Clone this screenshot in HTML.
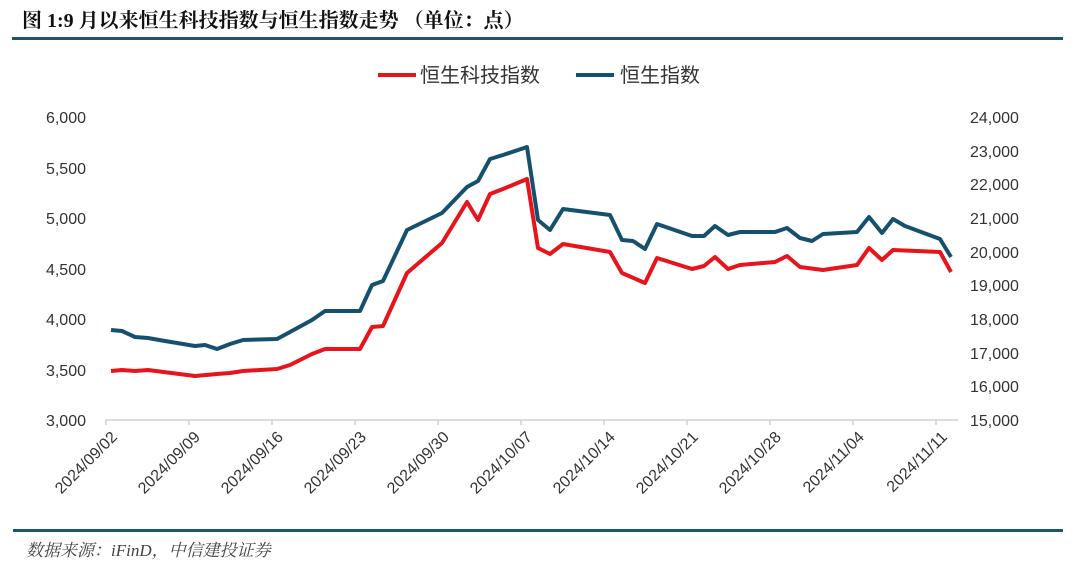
<!DOCTYPE html>
<html><head><meta charset="utf-8"><style>
body{margin:0;width:1080px;height:572px;background:#fff;overflow:hidden}
</style></head><body>
<svg width="1080" height="572" xmlns="http://www.w3.org/2000/svg" font-family="'Liberation Sans','Noto Sans CJK SC',sans-serif">
<text x="22" y="27" font-size="20" font-weight="bold" font-family="'Liberation Serif','Noto Serif CJK SC',serif" fill="#111">图 1:9 月以来恒生科技指数与恒生指数走势 （单位：点）</text>
<rect x="12" y="37" width="1051" height="3" fill="#1b5670"/>
<line x1="378" y1="75" x2="416" y2="75" stroke="#e8141b" stroke-width="4"/>
<text x="420" y="82" font-size="20" fill="#333">恒生科技指数</text>
<line x1="576" y1="75" x2="614" y2="75" stroke="#16506f" stroke-width="4"/>
<text x="620" y="82" font-size="20" fill="#333">恒生指数</text>
<g font-size="16" fill="#333" text-anchor="end">
<text x="86" y="123">6,000</text><text x="86" y="174">5,500</text><text x="86" y="224">5,000</text><text x="86" y="275">4,500</text><text x="86" y="325">4,000</text><text x="86" y="376">3,500</text><text x="86" y="426">3,000</text>
</g>
<g font-size="16" fill="#333">
<text x="970" y="123">24,000</text><text x="970" y="157">23,000</text><text x="970" y="190">22,000</text><text x="970" y="224">21,000</text><text x="970" y="258">20,000</text><text x="970" y="291">19,000</text><text x="970" y="325">18,000</text><text x="970" y="359">17,000</text><text x="970" y="392">16,000</text><text x="970" y="426">15,000</text>
</g>
<line x1="105" y1="420" x2="958" y2="420" stroke="#d0d0d0" stroke-width="1.5"/>
<g stroke="#d0d0d0" stroke-width="1.5">
<line x1="106" y1="420" x2="106" y2="425"/><line x1="189" y1="420" x2="189" y2="425"/><line x1="272" y1="420" x2="272" y2="425"/><line x1="355" y1="420" x2="355" y2="425"/><line x1="438" y1="420" x2="438" y2="425"/><line x1="521" y1="420" x2="521" y2="425"/><line x1="604" y1="420" x2="604" y2="425"/><line x1="687" y1="420" x2="687" y2="425"/><line x1="770" y1="420" x2="770" y2="425"/><line x1="853" y1="420" x2="853" y2="425"/><line x1="936" y1="420" x2="936" y2="425"/>
</g>
<g font-size="16" fill="#333" text-anchor="end">
<text transform="translate(118,438) rotate(-45)">2024/09/02</text>
<text transform="translate(201,438) rotate(-45)">2024/09/09</text>
<text transform="translate(284,438) rotate(-45)">2024/09/16</text>
<text transform="translate(367,438) rotate(-45)">2024/09/23</text>
<text transform="translate(450,438) rotate(-45)">2024/09/30</text>
<text transform="translate(533,438) rotate(-45)">2024/10/07</text>
<text transform="translate(616,438) rotate(-45)">2024/10/14</text>
<text transform="translate(699,438) rotate(-45)">2024/10/21</text>
<text transform="translate(782,438) rotate(-45)">2024/10/28</text>
<text transform="translate(865,438) rotate(-45)">2024/11/04</text>
<text transform="translate(948,438) rotate(-45)">2024/11/11</text>
</g>
<polyline fill="none" stroke="#e8141b" stroke-width="4" stroke-linejoin="round" points="111,371 122,370 135,371 148,370 195,376 217,374 230,373 243,371 277,369 290,365 312,354 325,349 360,349 372,327 383,326 407,273 442,243 467,202 478,220 490,194 503,189 527,179 538,248 550,254 563,244 610,252 622,273 645,283 657,258 692,269 704,266 715,257 728,269 740,265 775,262 787,256 800,267 823,270 857,265 869,248 882,260 893,250 940,252 951,272"/>
<polyline fill="none" stroke="#16506f" stroke-width="4" stroke-linejoin="round" points="111,330 122,331 135,337 148,338 165,341 195,346 205,345 217,349 230,344 243,340 277,339 290,332 312,320 325,311 360,311 372,285 383,281 407,230 442,213 467,187 478,181 490,159 503,155 527,147 538,220 550,230 563,209 610,215 622,240 633,241 645,249 657,224 692,236 704,236 715,226 728,235 740,232 775,232 787,228 800,238 812,241 823,234 857,232 869,217 882,233 893,219 905,226 940,239 951,257"/>
<rect x="13" y="529" width="1050" height="3" fill="#1b5670"/>
<text x="26" y="556" font-size="17" font-style="italic" font-family="'Liberation Serif','Noto Serif CJK SC',serif" fill="#444">数据来源：iFinD，中信建投证券</text>
</svg>
</body></html>
